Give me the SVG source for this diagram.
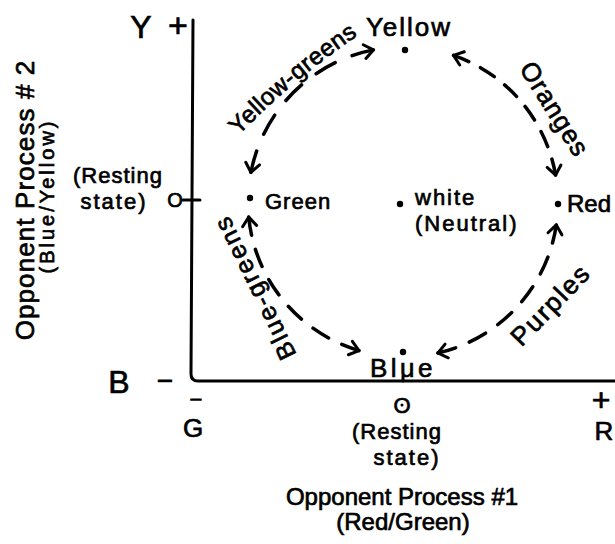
<svg xmlns="http://www.w3.org/2000/svg" width="615" height="544" viewBox="0 0 615 544">
<style>
.t{font-family:"Liberation Sans",Arial,sans-serif;fill:#000;stroke:#000;stroke-width:0.7;}
.m{text-anchor:middle;}
.ax{fill:none;stroke:#000;stroke-width:3;stroke-linecap:round;stroke-linejoin:round;}
.arc{fill:none;stroke:#000;stroke-width:3.5;stroke-linecap:round;marker-start:url(#ah);marker-end:url(#ah);}
.dot{fill:#000;}
</style>
<defs>
<marker id="ah" markerUnits="userSpaceOnUse" markerWidth="24" markerHeight="24" viewBox="-12 -12 24 24" refX="0" refY="0" orient="auto-start-reverse">
<path d="M-9,-7 L0,0 L-9,7" fill="none" stroke="#000" stroke-width="3" stroke-linecap="round" stroke-linejoin="round"/>
</marker>
<path id="ygPath" d="M225,150 Q290,79 375,24"/>
</defs>
<rect width="615" height="544" fill="#fff"/>

<g id="axes">
<path class="ax" d="M193,20 L191,374 Q191,381 198,381 L615,381"/>
<line class="ax" x1="183" y1="200" x2="200" y2="200"/>
<line class="ax" x1="403" y1="376" x2="403" y2="381"/>
<text class="t m" x="141" y="38" font-size="32">Y</text>
<text class="t m" x="178" y="37" font-size="34">+</text>
<text class="t m" x="118" y="183" font-size="22" letter-spacing="1">(Resting</text>
<text class="t m" x="114" y="209" font-size="22" letter-spacing="2">state)</text>
<text class="t m" x="175" y="207" font-size="20">O</text>
<text class="t m" x="119" y="393" font-size="32">B</text>
<text class="t m" x="165" y="390" font-size="28">−</text>
<text class="t m" x="196" y="407" font-size="22">−</text>
<text class="t m" x="193" y="437" font-size="26">G</text>
<text class="t m" x="402" y="413" font-size="22">O</text>
<circle class="dot" cx="402" cy="405" r="1.5"/>
<text class="t m" x="397" y="439" font-size="22" letter-spacing="1">(Resting</text>
<text class="t m" x="407" y="465" font-size="22" letter-spacing="2">state)</text>
<text class="t m" x="601" y="411" font-size="32">+</text>
<text class="t m" x="604" y="440" font-size="26">R</text>
<text class="t m" x="402" y="505" font-size="24">Opponent Process #1</text>
<text class="t m" x="403" y="530" font-size="24">(Red/Green)</text>
<text class="t m" transform="translate(34,200) rotate(-90)" font-size="26" letter-spacing="1.1">Opponent Process # 2</text>
<text class="t m" transform="translate(54,196) rotate(-90)" font-size="20" letter-spacing="3">(Blue/Yellow)</text>
</g>

<g id="node-yellow">
<circle class="dot" cx="405" cy="50" r="3.2"/>
<text class="t m" x="409" y="36" font-size="26" letter-spacing="2">Yellow</text>
</g>
<g id="node-green">
<circle class="dot" cx="250" cy="198" r="3.2"/>
<text class="t" x="265" y="209" font-size="22" letter-spacing="1">Green</text>
</g>
<g id="node-white">
<circle class="dot" cx="400" cy="204" r="3.2"/>
<text class="t" x="415" y="205" font-size="22" letter-spacing="2">white</text>
<text class="t" x="415" y="231" font-size="22" letter-spacing="2">(Neutral)</text>
</g>
<g id="node-red">
<circle class="dot" cx="558" cy="204" r="3.2"/>
<text class="t" x="567" y="212" font-size="24">Red</text>
</g>
<g id="node-blue">
<circle class="dot" cx="403" cy="352" r="3.2"/>
<text class="t" x="370" y="377" font-size="26" letter-spacing="3.5">Blue</text>
</g>

<g id="connectors">
<path class="arc" pathLength="100" stroke-dasharray="12 10" d="M250.9,172.4 A155,155 0 0 1 373.4,49.9"/>
<path class="arc" pathLength="100" stroke-dasharray="10 8" d="M453.5,55.4 A155,155 0 0 1 555.6,175.1"/>
<path class="arc" pathLength="100" stroke-dasharray="10 8" d="M556.3,224.9 A155,155 0 0 1 437.9,353"/>
<path class="arc" pathLength="100" stroke-dasharray="10 8" d="M359,350.6 A155,155 0 0 1 248.7,217.1"/>
<text class="t m" font-size="24" letter-spacing="0.5"><textPath href="#ygPath" startOffset="50%">Yellow-greens</textPath></text>
<text class="t m" transform="translate(553,110) rotate(58)" x="0" y="7" font-size="26" letter-spacing="1">Oranges</text>
<text class="t m" transform="translate(552,306) rotate(-46)" x="0" y="7" font-size="26" letter-spacing="2">Purples</text>
<text class="t m" transform="translate(256,287) rotate(-116)" x="0" y="7" font-size="25" letter-spacing="2">Blue-greens</text>
</g>
</svg>
